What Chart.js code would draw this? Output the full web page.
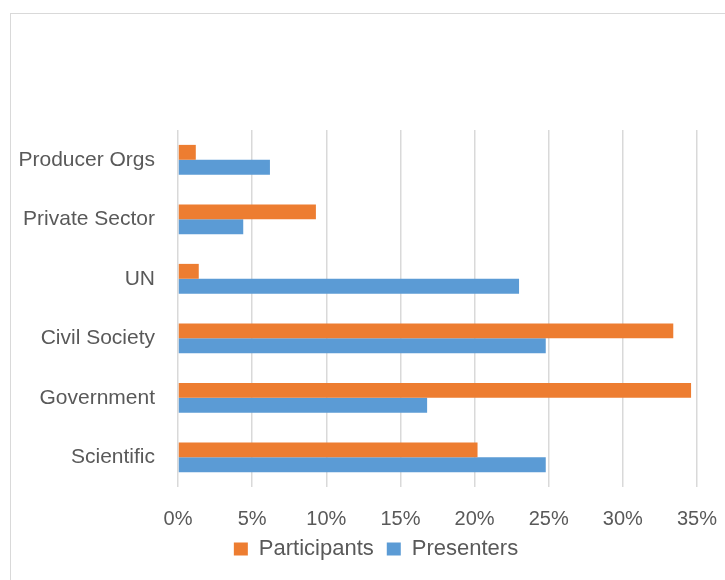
<!DOCTYPE html>
<html lang="en">
<head>
    <meta charset="UTF-8">
    <title>Participants and Presenters by Sector</title>
    <script src="https://cdn.jsdelivr.net/npm/chart.js"></script>
    <style>
        html, body {
            margin: 0;
            padding: 0;
            background: #ffffff;
            overflow: hidden;
        }
        .frame {
            position: absolute;
            left: 10px;
            top: 13px;
            width: 720px;
            height: 570px;
            border: 1px solid #d9d9d9;
            box-sizing: border-box;
        }
        .frame canvas {
            position: absolute;
            left: 0;
            top: 0;
        }
    </style>
</head>
<body>
    <div class="frame">
        <canvas id="sectorChart" width="718" height="568"></canvas>
    </div>

    <script>
        // Datos (porcentajes)
        const sectors = ['Producer Orgs', 'Private Sector', 'UN', 'Civil Society', 'Government', 'Scientific'];
        const participants = [1.2, 9.3, 1.4, 33.4, 34.6, 20.2];
        const presenters = [6.2, 4.4, 23.0, 24.8, 16.8, 24.8];
        const xTicks = [0, 5, 10, 15, 20, 25, 30, 35];

        const textColor = '#595959';
        const gridColor = '#d9d9d9';
        const fontFamily = '"Liberation Sans", Arial, sans-serif';

        // La leyenda de Excel queda un poco a la derecha y más arriba
        const legendOffset = {
            id: 'legendOffset',
            afterLayout(chart) {
                const lg = chart.legend;
                lg.left += 22;
                lg.right += 22;
                lg.top -= 7;
                lg.bottom -= 7;
            }
        };

        const ctx = document.getElementById('sectorChart').getContext('2d');

        new Chart(ctx, {
            type: 'bar',
            data: {
                labels: sectors,
                datasets: [
                    {
                        label: 'Participants',
                        data: participants,
                        backgroundColor: '#ED7D31',
                        categoryPercentage: 0.5,
                        barPercentage: 1.0
                    },
                    {
                        label: 'Presenters',
                        data: presenters,
                        backgroundColor: '#5B9BD5',
                        categoryPercentage: 0.5,
                        barPercentage: 1.0
                    }
                ]
            },
            plugins: [legendOffset],
            options: {
                indexAxis: 'y',
                responsive: false,
                animation: false,
                devicePixelRatio: 1,
                layout: {
                    padding: { top: 116, right: 32, bottom: 5, left: 0 }
                },
                plugins: {
                    legend: {
                        display: true,
                        position: 'bottom',
                        labels: {
                            color: textColor,
                            font: { family: fontFamily, size: 22 },
                            boxWidth: 14,
                            boxHeight: 13,
                            padding: 13
                        }
                    },
                    tooltip: { enabled: false }
                },
                scales: {
                    x: {
                        min: 0,
                        max: 35,
                        afterBuildTicks: (axis) => {
                            axis.ticks = xTicks.map(v => ({ value: v }));
                        },
                        afterFit: (axis) => {
                            axis.height = 45;
                            axis.paddingLeft = 0;
                            axis.paddingRight = 0;
                        },
                        ticks: {
                            color: textColor,
                            font: { family: fontFamily, size: 20 },
                            padding: 20,
                            callback: (value) => value + '%'
                        },
                        grid: {
                            color: gridColor,
                            lineWidth: 1.5,
                            drawTicks: false
                        },
                        border: { display: false }
                    },
                    y: {
                        afterFit: (axis) => { axis.width = 167; },
                        ticks: {
                            color: textColor,
                            font: { family: fontFamily, size: 21 },
                            padding: 15
                        },
                        grid: { display: false },
                        border: { display: false }
                    }
                }
            }
        });
    </script>
</body>
</html>
